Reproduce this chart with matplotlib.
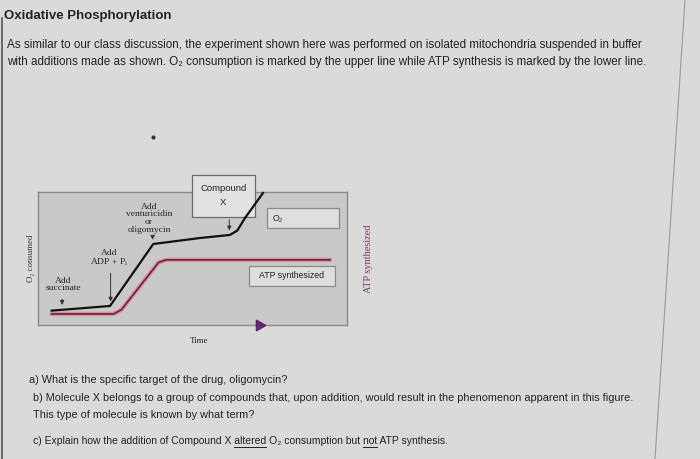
import matplotlib.pyplot as plt
from matplotlib.patches import Rectangle

# --- data (time in arbitrary units 0-10, signal 0-10) ---
o2_time = [0.44, 2.33, 3.73, 5.24, 6.21, 6.45, 6.70, 7.28]
o2_signal = [1.08, 1.43, 6.09, 6.54, 6.77, 7.10, 8.05, 9.92]
atp_time = [0.44, 2.45, 2.70, 3.90, 4.15, 9.45]
atp_signal = [0.83, 0.83, 1.15, 4.70, 4.90, 4.90]

addition_labels = ["Add\nsuccinate", "Add\nADP + P$_\\mathregular{i}$",
                   "Add\nventuricidin\nor\noligomycin"]
addition_times = [0.78, 2.35, 3.71]
compound_time = 6.19

title = "Oxidative Phosphorylation"
intro_lines = [
    "As similar to our class discussion, the experiment shown here was performed on isolated mitochondria suspended in buffer",
    "with additions made as shown. O\u2082 consumption is marked by the upper line while ATP synthesis is marked by the lower line.",
]
questions = [
    "a) What is the specific target of the drug, oligomycin?",
    "b) Molecule X belongs to a group of compounds that, upon addition, would result in the phenomenon apparent in this figure.",
    "This type of molecule is known by what term?",
]
question_c = "c) Explain how the addition of Compound X altered O\u2082 consumption but not ATP synthesis."

W, H = 700, 459
SANS = ["Liberation Sans", "DejaVu Sans"]
SERIF = ["Liberation Serif", "DejaVu Serif"]
TEXT = "#222222"

fig = plt.figure(figsize=(W / 100, H / 100), dpi=100)
fig.patch.set_facecolor("#dadad8")

# page overlay in pixel coordinates
page = fig.add_axes([0, 0, 1, 1], zorder=3)
page.set_xlim(0, W)
page.set_ylim(H, 0)
page.axis("off")
page.patch.set_alpha(0)

page.plot([1.5, 1.5], [18, H], color="#555555", lw=1.2)
page.plot([685, 655], [0, H], color="#9a9a9a", lw=0.8)

page.text(4, 16, title, family=SANS, fontsize=9.5, fontweight="bold",
          color=TEXT, va="center")
for i, line in enumerate(intro_lines):
    page.text(7, 45 + 17 * i, line, family=SANS, fontsize=8.4, color=TEXT,
              va="center")

QFS = 7.8
CFS = 7.5
page.text(29, 380, questions[0], family=SANS, fontsize=QFS, color=TEXT, va="center")
page.text(33, 398, questions[1], family=SANS, fontsize=QFS, color=TEXT, va="center")
page.text(33, 415, questions[2], family=SANS, fontsize=QFS, color=TEXT, va="center")
page.text(33, 441, question_c, family=SANS, fontsize=CFS, color=TEXT, va="center")

# underline "altered" and "not"
renderer = fig.canvas.get_renderer()


def text_width(s):
    t = page.text(0, 0, s, family=SANS, fontsize=CFS)
    w = t.get_window_extent(renderer).width
    t.remove()
    return w


for word, prefix in [("altered", question_c.split(" O")[0]),
                     ("not", question_c.split(" ATP")[0])]:
    end = 33 + text_width(prefix)
    start = end - text_width(word)
    page.plot([start, end], [446.5, 446.5], color=TEXT, lw=0.7)

# stray marks in the photo: dot and cursor
page.plot(153, 137, "o", color="#333333", ms=2)
page.plot(259, 325, marker=(3, 0, 30), color="#5a1a70", ms=9, alpha=0.9)

# --- the experiment chart ---
ax = fig.add_axes([38 / W, (H - 325) / H, 309 / W, 133 / H], zorder=2)
ax.set_xlim(0, 10)
ax.set_ylim(0, 10)
ax.set_facecolor("#c9c9c7")
for sp in ax.spines.values():
    sp.set_color("#8a8a8a")
    sp.set_linewidth(1)
ax.set_xticks([])
ax.set_yticks([])

ax.plot(atp_time, atp_signal, color="#c98a9c", lw=3.2, solid_capstyle="round",
        alpha=0.8, zorder=3)
ax.plot(atp_time, atp_signal, color="#7e1834", lw=1.2, zorder=4)
ax.plot(o2_time, o2_signal, color="#111111", lw=1.6, zorder=6,
        solid_joinstyle="round", clip_on=False)

arrow_kw = dict(arrowstyle="-|>", color="#333333", lw=0.7, mutation_scale=6)
label_x = [0.81, 2.30, 3.59]
label_y = [2.45, 4.3, 6.85]
tail_y = [2.15, 4.1, 6.8]
tip_y = [1.3, 1.55, 6.2]
for lab, t, lx, ly, ty, py in zip(addition_labels, addition_times, label_x,
                                  label_y, tail_y, tip_y):
    ax.annotate("", xy=(t, py), xytext=(t, ty), arrowprops=arrow_kw, zorder=5)
    ax.text(lx, ly, lab, family=SERIF, fontsize=6.8, color="#222222",
            ha="center", va="bottom", linespacing=0.95, zorder=5)

ax.text(-0.24, 5.0, "O\u2082 consumed", family=SERIF, fontsize=6.3,
        rotation=90, ha="center", va="center", color="#333333")
ax.text(10.7, 4.96, "ATP synthesized", family=SERIF, fontsize=7.4,
        rotation=90, ha="center", va="center", color="#7a3a60")
ax.text(5.2, -1.2, "Time", family=SERIF, fontsize=6.5, ha="center",
        va="center", color="#222222")

# Compound X box
ax.add_patch(Rectangle((4.97, 8.12), 2.05, 3.16, facecolor="#e2e2e0",
                       edgecolor="#6a6a6a", lw=0.9, clip_on=False, zorder=5))
ax.text(6.0, 10.3, "Compound", family=SANS, fontsize=6.8, ha="center",
        va="center", color="#222222", zorder=6)
ax.text(6.0, 9.2, "X", family=SANS, fontsize=6.8, ha="center",
        va="center", color="#222222", zorder=6)
ax.annotate("", xy=(compound_time, 6.9), xytext=(compound_time, 8.12),
            arrowprops=arrow_kw, zorder=5)

# O2 and ATP legend boxes
ax.add_patch(Rectangle((7.42, 7.27), 2.33, 1.5, facecolor="#dededc",
                       edgecolor="#8a8a8a", lw=0.9, zorder=5))
ax.text(7.6, 8.0, "O\u2082", family=SANS, fontsize=6.3,
        va="center", color="#222222", zorder=6)
ax.add_patch(Rectangle((6.84, 2.95), 2.77, 1.49, facecolor="#dededc",
                       edgecolor="#8a8a8a", lw=0.9, zorder=5))
ax.text(8.22, 3.7, "ATP synthesized", family=SANS, fontsize=6.3,
        ha="center", va="center", color="#222222", zorder=6)

fig.savefig("out.png", dpi=100, facecolor=fig.get_facecolor())
